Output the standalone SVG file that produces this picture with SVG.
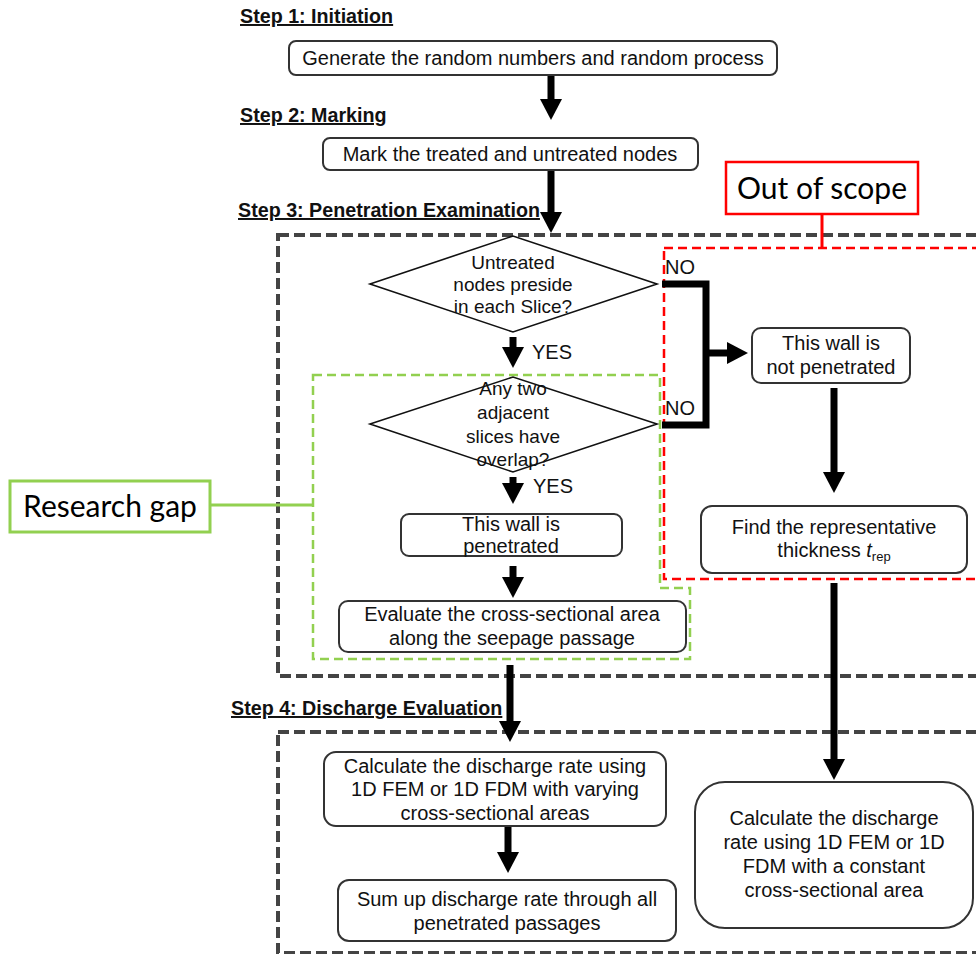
<svg xmlns="http://www.w3.org/2000/svg" width="976" height="954" viewBox="0 0 976 954">
<defs>
<marker id="ah" viewBox="0 0 21 22" refX="0" refY="11" markerWidth="21" markerHeight="22" markerUnits="userSpaceOnUse" orient="auto">
<path d="M0,0 L21,11 L0,22 Z" fill="#000"/>
</marker>
<style>
.t{font-family:"Liberation Sans",Arial,sans-serif;font-size:20px;fill:#111;text-anchor:middle}
.d{font-family:"Liberation Sans",Arial,sans-serif;font-size:19px;fill:#111;text-anchor:middle}
.s{font-family:"Liberation Sans",Arial,sans-serif;font-size:19.7px;font-weight:bold;fill:#111;text-decoration:underline}
.c{font-family:Lato,"Open Sans",sans-serif;font-size:30px;fill:#000;text-anchor:middle}
.box{fill:#fff;stroke:#333;stroke-width:2}
.dia{fill:#fff;stroke:#111;stroke-width:1.6}
.gray{fill:none;stroke:#444;stroke-width:4;stroke-dasharray:11 5}
.red{fill:none;stroke:#f00;stroke-width:2.5;stroke-dasharray:9 5}
.green{fill:none;stroke:#92d050;stroke-width:2.5;stroke-dasharray:9 5}
.arr{stroke:#000;stroke-width:7;fill:none;marker-end:url(#ah)}
.ln{stroke:#000;stroke-width:7;fill:none}
.lbl{font-family:"Liberation Sans",Arial,sans-serif;font-size:20px;fill:#111;text-anchor:start}
</style>
</defs>
<rect width="976" height="954" fill="#fff"/>

<g id="regions">
<rect class="gray" x="278" y="235" width="730" height="441"/>
<rect class="gray" x="278" y="732" width="730" height="221"/>
<rect class="red" x="664" y="248" width="340" height="331"/>
<path class="green" d="M313,375 H660 V588 H690 V659 H313 Z"/>
</g>

<g id="step-labels">
<text class="s" x="240" y="23">Step 1: Initiation</text>
<text class="s" x="240" y="122">Step 2: Marking</text>
<text class="s" x="238" y="217">Step 3: Penetration Examination</text>
<text class="s" x="231" y="715">Step 4: Discharge Evaluation</text>
</g>

<g id="connectors">
<path class="arr" d="M551,75 V99"/>
<path class="arr" d="M551,170 V212"/>
<path class="arr" d="M513,337 V347"/>
<path class="ln" d="M662,284 H706 V425 H662"/>
<path class="arr" d="M706,353 H727"/>
<path class="arr" d="M513,477 V483"/>
<path class="arr" d="M513,566 V577"/>
<path class="arr" d="M510,665 V721"/>
<path class="arr" d="M834,388 V472"/>
<path class="arr" d="M834,583 V759"/>
<path class="arr" d="M508,826 V852"/>
<line x1="211" y1="505" x2="313" y2="505" stroke="#92d050" stroke-width="3"/>
<line x1="822" y1="214" x2="822" y2="248" stroke="#f00" stroke-width="3"/>
<text class="lbl" x="532" y="359">YES</text>
<text class="lbl" x="533" y="493">YES</text>
<text class="lbl" x="665" y="274">NO</text>
<text class="lbl" x="665" y="415">NO</text>
</g>

<g id="n-generate">
<rect class="box" x="289" y="41" width="488" height="34" rx="7"/>
<text class="t" x="533" y="65">Generate the random numbers and random process</text>
</g>

<g id="n-mark">
<rect class="box" x="323" y="138" width="375" height="32" rx="7"/>
<text class="t" x="510" y="161">Mark the treated and untreated nodes</text>
</g>

<g id="n-untreated">
<polygon class="dia" points="370,284 513,236 657,284 513,332"/>
<text class="d" x="513" y="269">Untreated</text>
<text class="d" x="513" y="291">nodes preside</text>
<text class="d" x="513" y="313">in each Slice?</text>
</g>

<g id="n-adjacent">
<polygon class="dia" points="370,424 513,377 657,424 513,472"/>
<text class="d" x="513" y="395">Any two</text>
<text class="d" x="513" y="419">adjacent</text>
<text class="d" x="513" y="443">slices have</text>
<text class="d" x="513" y="466">overlap?</text>
</g>

<g id="n-penetrated">
<rect class="box" x="401" y="514" width="221" height="42" rx="8"/>
<text class="t" x="511" y="531">This wall is</text>
<text class="t" x="511" y="553">penetrated</text>
</g>

<g id="n-evaluate">
<rect class="box" x="339" y="601" width="347" height="51" rx="9"/>
<text class="t" x="512" y="621">Evaluate the cross-sectional area</text>
<text class="t" x="512" y="645">along the seepage passage</text>
</g>

<g id="n-notpen">
<rect class="box" x="752" y="328" width="158" height="55" rx="9"/>
<text class="t" x="831" y="350">This wall is</text>
<text class="t" x="831" y="374">not penetrated</text>
</g>

<g id="n-thickness">
<rect class="box" x="701" y="506" width="266" height="67" rx="11"/>
<text class="t" x="834" y="534">Find the representative</text>
<text class="t" x="834" y="557">thickness <tspan font-style="italic">t</tspan><tspan font-size="13" dy="4">rep</tspan></text>
</g>

<g id="n-calc-varying">
<rect class="box" x="324" y="752" width="342" height="74" rx="12"/>
<text class="t" x="495" y="773">Calculate the discharge rate using</text>
<text class="t" x="495" y="796">1D FEM or 1D FDM with varying</text>
<text class="t" x="495" y="820">cross-sectional areas</text>
</g>

<g id="n-sum">
<rect class="box" x="338" y="880" width="338" height="61" rx="11"/>
<text class="t" x="507" y="906">Sum up discharge rate through all</text>
<text class="t" x="507" y="930">penetrated passages</text>
</g>

<g id="n-calc-constant">
<rect class="box" x="695" y="782" width="278" height="146" rx="30"/>
<text class="t" x="834" y="825">Calculate the discharge</text>
<text class="t" x="834" y="849">rate using 1D FEM or 1D</text>
<text class="t" x="834" y="873">FDM with a constant</text>
<text class="t" x="834" y="897">cross-sectional area</text>
</g>

<g id="n-out-of-scope">
<rect x="726" y="162" width="192" height="52" fill="#fff" stroke="#f00" stroke-width="2.5"/>
<text class="c" x="822" y="199">Out of scope</text>
</g>

<g id="n-research-gap">
<rect x="10" y="481" width="200" height="51" fill="#fff" stroke="#92d050" stroke-width="3"/>
<text class="c" x="110" y="517">Research gap</text>
</g>
</svg>
